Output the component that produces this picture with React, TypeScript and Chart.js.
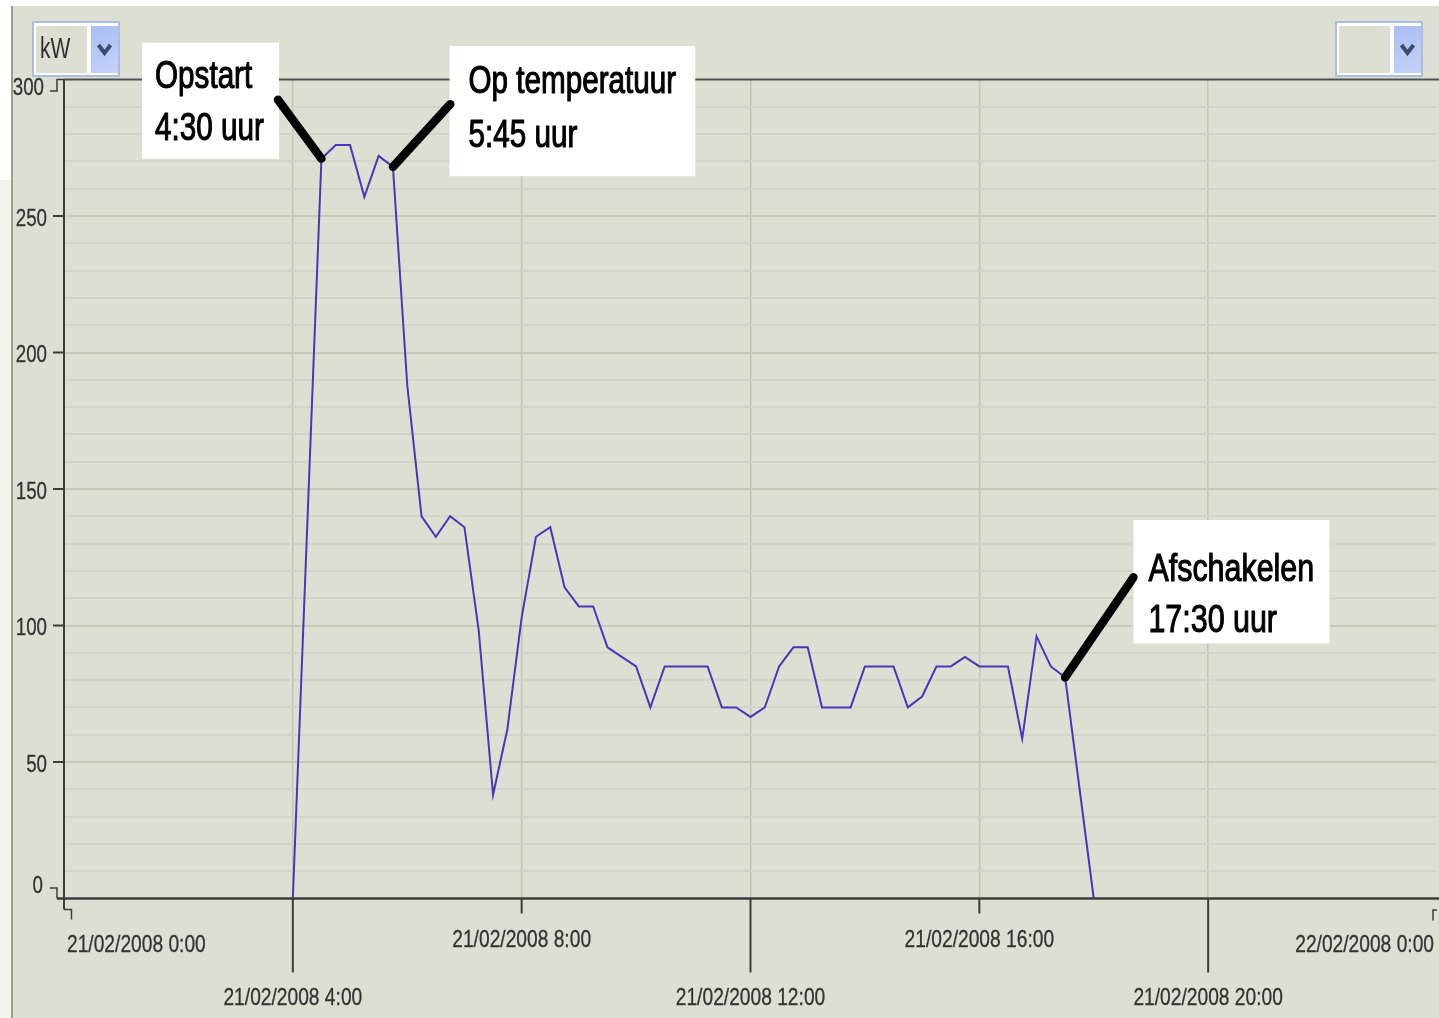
import { useEffect, useRef } from 'react';
import { Chart, registerables } from 'chart.js';

Chart.register(...registerables);

// ---- data (hours since 21/02/2008 0:00, power in kW) ----
const timeHours = [
  4, 4.5, 4.75, 5, 5.25, 5.5, 5.75, 6, 6.25, 6.5, 6.75, 7, 7.25, 7.5, 7.75, 8,
  8.25, 8.5, 8.75, 9, 9.25, 9.5, 9.75, 10, 10.25, 10.5, 10.75, 11, 11.25, 11.5,
  11.75, 12, 12.25, 12.5, 12.75, 13, 13.25, 13.5, 13.75, 14, 14.25, 14.5, 14.75,
  15, 15.25, 15.5, 15.75, 16, 16.25, 16.5, 16.75, 17, 17.25, 17.5, 18,
];
const powerKw = [
  0, 271, 276, 276, 257, 272, 268, 188, 140, 132.5, 140, 136, 98, 38, 62, 103,
  132.5, 136, 114, 107, 107, 92, 88.5, 85, 70, 85, 85, 85, 85, 70,
  70, 66.5, 70, 85, 92, 92, 70, 70, 70, 85, 85, 85, 70,
  74, 85, 85, 88.5, 85, 85, 85, 58.5, 96, 85, 81, 0,
];
const xTickHours = [0, 4, 8, 12, 16, 20, 24];
const xTickLabels = [
  '21/02/2008 0:00',
  '21/02/2008 4:00',
  '21/02/2008 8:00',
  '21/02/2008 12:00',
  '21/02/2008 16:00',
  '21/02/2008 20:00',
  '22/02/2008 0:00',
];
const yTickValues = [0, 50, 100, 150, 200, 250, 300];
const unitLabel = 'kW';
const annotationHours = [4.5, 5.75, 17.5];
const annotationTexts = [
  ['Opstart', '4:30 uur'],
  ['Op temperatuur', '5:45 uur'],
  ['Afschakelen', '17:30 uur'],
];

// ---- styling / layout (not data) ----
const BG = '#dedfd3';
const FONT = '"Liberation Sans", Arial, sans-serif';
const annotationLayout = [
  { box: [-179.4, -116, 137, 116], text: [13, 45, 97], lead: [-43.4, -59], size: 38 },
  { box: [56.6, -120.7, 245.7, 130], text: [19, 47.3, 101.3], lead: [57.3, -62.7], size: 38 },
  { box: [68.3, -157.4, 196, 123.4], text: [15, 60.7, 112.4], lead: [68.3, -100], size: 39 },
];

function drawText(
  ctx: CanvasRenderingContext2D,
  text: string,
  x: number,
  y: number,
  size: number,
  sx: number,
  align: 'left' | 'center' | 'right',
  color: string,
  baseline: CanvasTextBaseline,
  strokeW = 0,
) {
  ctx.save();
  ctx.font = `${size}px ${FONT}`;
  ctx.fillStyle = color;
  ctx.textBaseline = baseline;
  ctx.textAlign = 'left';
  const w = ctx.measureText(text).width * sx;
  const left = align === 'left' ? x : align === 'center' ? x - w / 2 : x - w;
  ctx.translate(left, y);
  ctx.scale(sx, 1);
  ctx.fillText(text, 0, 0);
  if (strokeW > 0) {
    ctx.strokeStyle = color;
    ctx.lineWidth = strokeW;
    ctx.lineJoin = 'round';
    ctx.strokeText(text, 0, 0);
  }
  ctx.restore();
}

function line(ctx: CanvasRenderingContext2D, pts: number[][], width: number, color: string, cap: CanvasLineCap = 'butt') {
  ctx.save();
  ctx.strokeStyle = color;
  ctx.lineWidth = width;
  ctx.lineJoin = 'miter';
  ctx.lineCap = cap;
  ctx.beginPath();
  pts.forEach((p, i) => (i === 0 ? ctx.moveTo(p[0], p[1]) : ctx.lineTo(p[0], p[1])));
  ctx.stroke();
  ctx.restore();
}

function drawDropdown(ctx: CanvasRenderingContext2D, x: number, y: number, label: string) {
  const w = 88;
  const h = 56;
  ctx.save();
  ctx.fillStyle = '#a9bddf';
  ctx.fillRect(x, y, w, h);
  ctx.fillStyle = '#ffffff';
  ctx.fillRect(x + 2, y + 2, w - 4, h - 4);
  ctx.fillStyle = BG;
  ctx.fillRect(x + 4, y + 5, 51, 47);
  const g = ctx.createLinearGradient(x + 59, y, x + 86, y + h);
  g.addColorStop(0, '#a7bbf1');
  g.addColorStop(1, '#c6d5fb');
  ctx.fillStyle = g;
  ctx.fillRect(x + 59, y + 5, 27, 47);
  ctx.strokeStyle = '#3d4b70';
  ctx.lineWidth = 4;
  ctx.lineJoin = 'miter';
  ctx.beginPath();
  const cx = x + 72.5;
  const cy = y + 29;
  ctx.moveTo(cx - 6, cy - 5);
  ctx.lineTo(cx, cy + 3);
  ctx.lineTo(cx + 6, cy - 5);
  ctx.stroke();
  ctx.restore();
  if (label) drawText(ctx, label, x + 8, y + 29, 30, 0.7, 'left', '#2e2e2e', 'middle');
}

const decoPlugin = {
  id: 'deco',
  beforeDraw(chart: any) {
    const ctx: CanvasRenderingContext2D = chart.ctx;
    const W = chart.width;
    const H = chart.height;
    ctx.save();
    ctx.fillStyle = BG;
    ctx.fillRect(0, 0, W, H);
    ctx.fillStyle = '#f3f4ef';
    ctx.fillRect(0, 0, 11, H);
    ctx.fillStyle = '#ffffff';
    ctx.fillRect(0, 0, 11, 180);
    ctx.fillRect(0, 0, W, 6);
    ctx.fillStyle = '#9d9c8d';
    ctx.fillRect(11, 6, 2, H - 6);
    ctx.restore();
  },
  afterDraw(chart: any) {
    const ctx: CanvasRenderingContext2D = chart.ctx;
    const xs = chart.scales.x;
    const ys = chart.scales.y;
    const W = chart.width;
    const axisCol = '#3c3c3c';
    const tickCol = '#333';
    const top = ys.getPixelForValue(300);
    const bottom = ys.getPixelForValue(0);
    const left = xs.getPixelForValue(0);

    // frame lines
    line(ctx, [[left, top], [W, top]], 2, '#505050');
    line(ctx, [[left, top], [left, bottom + 11]], 2, axisCol);
    line(ctx, [[left, bottom + 11], [left + 7.5, bottom + 11], [left + 7.5, bottom + 21]], 1.5, axisCol);
    line(ctx, [[57, bottom], [W, bottom]], 2.5, axisCol);

    // y ticks + labels
    yTickValues.forEach((v) => {
      const py = ys.getPixelForValue(v);
      if (v === 300) {
        line(ctx, [[50, py + 11.5], [57, py + 11.5], [57, py], [left, py]], 1.5, axisCol);
        drawText(ctx, String(v), 44, py + 9, 24, 0.78, 'right', tickCol, 'middle', 0.3);
      } else if (v === 0) {
        line(ctx, [[50, py - 10.5], [57, py - 10.5], [57, py]], 1.5, axisCol);
        drawText(ctx, String(v), 43, py - 12.5, 24, 0.78, 'right', tickCol, 'middle', 0.3);
      } else {
        line(ctx, [[53, py], [left, py]], 2, axisCol);
        drawText(ctx, String(v), 47, py + 3, 24, 0.78, 'right', tickCol, 'middle', 0.3);
      }
    });

    // x ticks + labels
    xTickHours.forEach((hv, i) => {
      const px = xs.getPixelForValue(hv);
      if (i === 0) {
        drawText(ctx, xTickLabels[i], px + 3, 945, 24, 0.8, 'left', tickCol, 'middle', 0.3);
      } else if (i === xTickHours.length - 1) {
        line(ctx, [[px - 4, bottom + 22], [px - 4, bottom + 11.5], [px, bottom + 11.5]], 1.5, axisCol);
        drawText(ctx, xTickLabels[i], px - 3, 945, 24, 0.8, 'right', tickCol, 'middle', 0.3);
      } else if (i % 2 === 0) {
        line(ctx, [[px, bottom], [px, bottom + 15]], 2, axisCol);
        drawText(ctx, xTickLabels[i], px, 940, 24, 0.8, 'center', tickCol, 'middle', 0.3);
      } else {
        line(ctx, [[px, bottom], [px, bottom + 74]], 2, axisCol);
        drawText(ctx, xTickLabels[i], px, 998, 24, 0.8, 'center', tickCol, 'middle', 0.3);
      }
    });

    // dropdown widgets
    drawDropdown(ctx, 32, 21, unitLabel);
    drawDropdown(ctx, 1335, 21, '');

    // annotations
    annotationHours.forEach((hv, i) => {
      const idx = timeHours.indexOf(hv);
      const tx = xs.getPixelForValue(hv);
      const ty = ys.getPixelForValue(powerKw[idx]);
      const L = annotationLayout[i];
      const bx = tx + L.box[0];
      const by = ty + L.box[1];
      ctx.save();
      ctx.fillStyle = '#ffffff';
      ctx.fillRect(bx, by, L.box[2], L.box[3]);
      ctx.restore();
      line(ctx, [[tx + L.lead[0], ty + L.lead[1]], [tx, ty]], 8.5, '#000000', 'round');
      drawText(ctx, annotationTexts[i][0], bx + L.text[0], by + L.text[1], L.size, 0.78, 'left', '#000', 'alphabetic', 1.1);
      drawText(ctx, annotationTexts[i][1], bx + L.text[0], by + L.text[2], L.size, 0.78, 'left', '#000', 'alphabetic', 1.1);
    });
  },
};

export default function App() {
  const ref = useRef<HTMLCanvasElement>(null);

  useEffect(() => {
    if (!ref.current) return;
    const chart = new Chart(ref.current, {
      type: 'line',
      data: {
        datasets: [
          {
            label: 'kW',
            data: timeHours.map((h, i) => ({ x: h, y: powerKw[i] })),
            borderColor: '#4e34b6',
            borderWidth: 2,
            pointRadius: 0,
            tension: 0,
            fill: false,
          },
        ],
      },
      options: {
        responsive: false,
        maintainAspectRatio: false,
        animation: false,
        devicePixelRatio: 1,
        layout: { padding: { left: 64, top: 79.5, right: 2, bottom: 119.5 } },
        plugins: { legend: { display: false }, tooltip: { enabled: false } },
        scales: {
          x: {
            type: 'linear',
            min: 0,
            max: 24,
            ticks: { display: false, stepSize: 4 },
            grid: {
              drawTicks: false,
              lineWidth: 1.5,
              color: (c: any) =>
                c.tick && (c.tick.value === 0 || c.tick.value === 24) ? 'rgba(0,0,0,0)' : '#c3c4b6',
            },
            border: { display: false },
            afterFit: (s: any) => {
              s.height = 0;
            },
          },
          y: {
            type: 'linear',
            min: 0,
            max: 300,
            ticks: { display: false, stepSize: 10 },
            grid: {
              drawTicks: false,
              lineWidth: 2,
              color: (c: any) => {
                const v = c.tick ? c.tick.value : 1;
                if (v === 0 || v === 300) return 'rgba(0,0,0,0)';
                return v % 50 === 0 ? '#c7c8ba' : '#d3d4c7';
              },
            },
            border: { display: false },
            afterFit: (s: any) => {
              s.width = 0;
            },
          },
        },
      },
      plugins: [decoPlugin],
    });
    return () => chart.destroy();
  }, []);

  return (
    <div style={{ position: 'fixed', left: 0, top: 0, width: 1439, height: 1018 }}>
      <canvas ref={ref} width={1439} height={1018} style={{ display: 'block', width: 1439, height: 1018 }} />
    </div>
  );
}
